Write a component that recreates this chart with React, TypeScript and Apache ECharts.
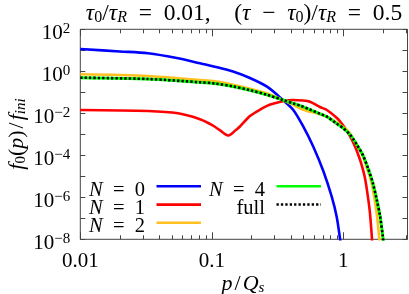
import { useEffect, useRef } from "react";
import * as echarts from "echarts";

const FONT = "'Liberation Serif', 'DejaVu Serif', serif";

// ticks / labels
const xMajorTicks = [0.01, 0.1, 1];
const xTickLabels = ["0.01", "0.1", "1"];
const xMinorTicks = [0.02, 0.03, 0.04, 0.05, 0.06, 0.07, 0.08, 0.09, 0.2, 0.3, 0.4, 0.5, 0.6, 0.7, 0.8, 0.9, 2, 3];
const yTicks = [1e-8, 1e-7, 1e-6, 1e-5, 1e-4, 1e-3, 1e-2, 1e-1, 1, 10, 100];
const yLabelTicks = [1e-8, 1e-6, 1e-4, 1e-2, 1, 100];
const yMin = 1e-8;
const yMax = 1e2;
const xMin = 0.01;
const xMax = 3.08;

// N = 0
const n0P = [0.01, 0.02, 0.0327, 0.0554, 0.0813, 0.105, 0.145, 0.195, 0.263, 0.348, 0.417, 0.497, 0.592, 0.705, 0.817, 0.891, 0.944, 0.975];
const n0F = [11.5, 8.8, 7.2, 4.16, 2.4, 1.66, 0.98, 0.48, 0.185, 0.043, 0.0144, 2.3e-3, 2.57e-4, 1.79e-5, 1.07e-6, 1.19e-7, 1.12e-8, 2.5e-9];

// N = 1
const n1P = [0.01, 0.0327, 0.0554, 0.0813, 0.1, 0.115, 0.127, 0.133, 0.14, 0.152, 0.163, 0.195, 0.225, 0.263, 0.292, 0.348, 0.414, 0.494, 0.558, 0.665, 0.751, 0.895, 0.96, 1.034, 1.105, 1.185, 1.271, 1.363, 1.462, 1.541, 1.596, 1.652, 1.69];
const n1F = [1.44e-2, 1.29e-2, 1.0e-2, 5.25e-3, 2.82e-3, 1.58e-3, 1.0e-3, 8.7e-4, 1.0e-3, 1.58e-3, 2.29e-3, 7.4e-3, 1.32e-2, 2.24e-2, 2.82e-2, 3.72e-2, 4.27e-2, 4.07e-2, 3.55e-2, 2.0e-2, 1.44e-2, 5.97e-3, 3.66e-3, 1.95e-3, 1.0e-3, 4.33e-4, 1.57e-4, 4.45e-5, 8.3e-6, 1.02e-6, 1.78e-7, 1.15e-8, 1.6e-9];

// N = 2
const n2P = [0.01, 0.0327, 0.0813, 0.105, 0.145, 0.195, 0.263, 0.348, 0.417, 0.469, 0.53, 0.558, 0.665, 0.751, 0.895, 0.995, 1.09, 1.24, 1.39, 1.52, 1.644, 1.795, 1.878, 1.93];
const n2F = [0.72, 0.6, 0.38, 0.33, 0.229, 0.148, 0.087, 0.0427, 0.0251, 0.0174, 0.0129, 0.012, 9.1e-3, 6.9e-3, 3.55e-3, 2.24e-3, 1.41e-3, 3.8e-4, 1.12e-4, 2.24e-5, 4.68e-6, 1.74e-7, 1.12e-8, 1.6e-9];

// N = 4
const n4P = [0.01, 0.0327, 0.0813, 0.105, 0.145, 0.195, 0.263, 0.348, 0.417, 0.469, 0.558, 0.665, 0.751, 0.895, 0.995, 1.06, 1.12, 1.19, 1.27, 1.41, 1.55, 1.68, 1.8, 1.9, 2.0, 2.05];
const n4F = [0.495, 0.43, 0.3, 0.263, 0.19, 0.126, 0.0759, 0.043, 0.0295, 0.0234, 0.0151, 9.5e-3, 6.9e-3, 3.16e-3, 2.0e-3, 1.41e-3, 1.0e-3, 6.0e-4, 3.16e-4, 1.02e-4, 2.24e-5, 4.68e-6, 7.4e-7, 1.41e-7, 1.32e-8, 2.5e-9];

// full
const fullP = [0.01, 0.0327, 0.0813, 0.105, 0.145, 0.195, 0.263, 0.348, 0.417, 0.469, 0.558, 0.665, 0.751, 0.895, 0.995, 1.06, 1.12, 1.19, 1.27, 1.41, 1.55, 1.68, 1.8, 1.9, 2.0, 2.05];
const fullF = [0.495, 0.43, 0.3, 0.263, 0.19, 0.126, 0.0759, 0.043, 0.0295, 0.0234, 0.0151, 9.5e-3, 6.9e-3, 3.16e-3, 2.0e-3, 1.41e-3, 1.0e-3, 6.0e-4, 3.16e-4, 1.02e-4, 2.24e-5, 4.68e-6, 7.4e-7, 1.41e-7, 1.32e-8, 2.5e-9];

const seriesNames = ["N = 0", "N = 1", "N = 2", "N = 4", "full"];
const seriesColors = ["#0000ff", "#ff0000", "#ffc020", "#00ff00", "#000000"];
const seriesP = [n0P, n1P, n2P, n4P, fullP];
const seriesF = [n0F, n1F, n2F, n4F, fullF];
const legendLabels = ["{i|N}{r|\u2002=\u20020}", "{i|N}{r|\u2002=\u20021}", "{i|N}{r|\u2002=\u20022}", "{i|N}{r|\u2002=\u20024}", "{r|full}"];

const titleText =
  "{i|\u03c4}{s|0}{r|/}{i|\u03c4}{si|R}{r|\u2002=\u20020.01,\u2003(}{i|\u03c4}{r|\u2002\u2212\u2002}{i|\u03c4}{s|0}{r|)/}{i|\u03c4}{si|R}{r|\u2002=\u20020.5}";
const xName = "{i|p}{sl|/}{i|Q}{si|s}";
const yName = "{i|f}{s|0}{r|(}{i|p}{r|)}{sl|/}{i|f}{si|ini}";

function makeRich(size: number, sub: number, lh: number) {
  return {
    r: { fontFamily: FONT, fontSize: size, lineHeight: lh, color: "#000" },
    i: { fontFamily: FONT, fontSize: size, fontStyle: "italic", lineHeight: lh, color: "#000" },
    sl: { fontFamily: FONT, fontSize: size, lineHeight: lh, color: "#000", padding: [0, 2, 0, 2] },
    s: { fontFamily: FONT, fontSize: sub, lineHeight: sub, verticalAlign: "bottom", color: "#000" },
    si: { fontFamily: FONT, fontSize: sub, fontStyle: "italic", lineHeight: sub, verticalAlign: "bottom", color: "#000" },
  } as any;
}
const titleRich = makeRich(23.5, 16, 26);
const nameRich = makeRich(22, 15, 25);
const legendRich = makeRich(20.5, 15, 17);

const yRich: any = {
  b: { fontFamily: FONT, fontSize: 21, lineHeight: 22, color: "#000" },
  e: { fontFamily: FONT, fontSize: 15, lineHeight: 12, verticalAlign: "top", color: "#000" },
};

const AX = "#444";

function yLabel(v: number) {
  const e = Math.round(Math.log10(v));
  return "{b|10}{e|" + (e < 0 ? "\u2212" + -e : "" + e) + "}";
}
function xLabel(v: number) {
  let best = 0;
  for (let i = 0; i < xMajorTicks.length; i++) {
    if (Math.abs(Math.log10(xMajorTicks[i]) - Math.log10(v)) < Math.abs(Math.log10(xMajorTicks[best]) - Math.log10(v))) best = i;
  }
  return xTickLabels[best];
}

function xAxisDef(position: "bottom" | "top", major: boolean, withLabels: boolean) {
  return {
    type: "log",
    logBase: 10,
    min: xMin,
    max: xMax,
    position,
    axisLine: { show: false },
    splitLine: { show: false },
    axisTick: {
      show: true,
      inside: true,
      length: major ? 7 : 4,
      customValues: major ? xMajorTicks : xMinorTicks,
      lineStyle: { color: AX, width: 1 },
    },
    axisLabel: withLabels
      ? { show: true, customValues: xMajorTicks, formatter: xLabel, margin: 10, fontFamily: FONT, fontSize: 21, color: "#000" }
      : { show: false },
  };
}

function yAxisDef(position: "left" | "right", withLabels: boolean) {
  return {
    type: "log",
    logBase: 10,
    min: yMin,
    max: yMax,
    position,
    axisLine: { show: false },
    splitLine: { show: false },
    axisTick: { show: true, inside: true, length: 5, customValues: yTicks, lineStyle: { color: AX, width: 1 } },
    axisLabel: withLabels
      ? {
          show: true,
          customValues: yLabelTicks,
          formatter: yLabel,
          rich: yRich,
          margin: 10,
          padding: [5, 0, 0, 0],
          fontFamily: FONT,
          fontSize: 21,
        }
      : { show: false },
  };
}

export default function App() {
  const ref = useRef<HTMLDivElement>(null);
  useEffect(() => {
    const chart = echarts.init(ref.current!, null, { renderer: "svg" });

    const series = seriesNames.map((name, k) => ({
      name,
      type: "line",
      xAxisIndex: 0,
      yAxisIndex: 0,
      data: seriesP[k].map((p, i) => [p, seriesF[k][i]]),
      showSymbol: false,
      symbol: "none",
      smooth: 0.3,
      clip: true,
      z: 2 + k,
      lineStyle:
        k === 4
          ? { color: seriesColors[k], width: 2.6, type: [2.3, 2.1], cap: "butt" }
          : { color: seriesColors[k], width: k === 3 ? 3 : 2.6 },
    }));

    const legendX = [145, 145, 145, 265, 265];
    const legendY = [186.2, 204.6, 222.8, 186.2, 204.5];
    const graphic: any[] = [
      {
        type: "text",
        x: 244,
        y: 11.5,
        style: { text: titleText, rich: titleRich, align: "center", verticalAlign: "middle", fontFamily: FONT, fontSize: 23.5 },
      },
      {
        type: "text",
        x: 243,
        y: 282,
        style: { text: xName, rich: nameRich, align: "center", verticalAlign: "middle", fontFamily: FONT, fontSize: 22 },
      },
      {
        type: "text",
        x: 15,
        y: 134,
        rotation: Math.PI / 2,
        style: { text: yName, rich: nameRich, align: "center", verticalAlign: "middle", fontFamily: FONT, fontSize: 22 },
      },
    ];
    seriesNames.forEach((_, k) => {
      graphic.push({
        type: "text",
        x: legendX[k],
        y: legendY[k] + 2.5,
        z: 100,
        style: { text: legendLabels[k], rich: legendRich, align: "right", verticalAlign: "middle", fontFamily: FONT, fontSize: 20.5 },
      });
      graphic.push({
        type: "line",
        z: 100,
        shape: { x1: legendX[k] + 11.5, y1: legendY[k], x2: legendX[k] + 56, y2: legendY[k] },
        style:
          k === 4
            ? { stroke: seriesColors[k], lineWidth: 2.6, lineDash: [2.3, 2.1] }
            : { stroke: seriesColors[k], lineWidth: 2.6 },
      });
    });

    chart.setOption({
      animation: false,
      grid: {
        left: 80.3,
        right: 1.5,
        top: 29.3,
        bottom: 54.7,
        show: true,
        borderColor: AX,
        borderWidth: 1,
        backgroundColor: "transparent",
      },
      xAxis: [
        xAxisDef("bottom", true, true),
        xAxisDef("bottom", false, false),
        xAxisDef("top", true, false),
        xAxisDef("top", false, false),
      ],
      yAxis: [yAxisDef("left", true), yAxisDef("right", false)],
      series,
      graphic,
    });
    return () => chart.dispose();
  }, []);
  return <div ref={ref} style={{ position: "fixed", left: 0, top: 0, width: 409, height: 294 }} />;
}
